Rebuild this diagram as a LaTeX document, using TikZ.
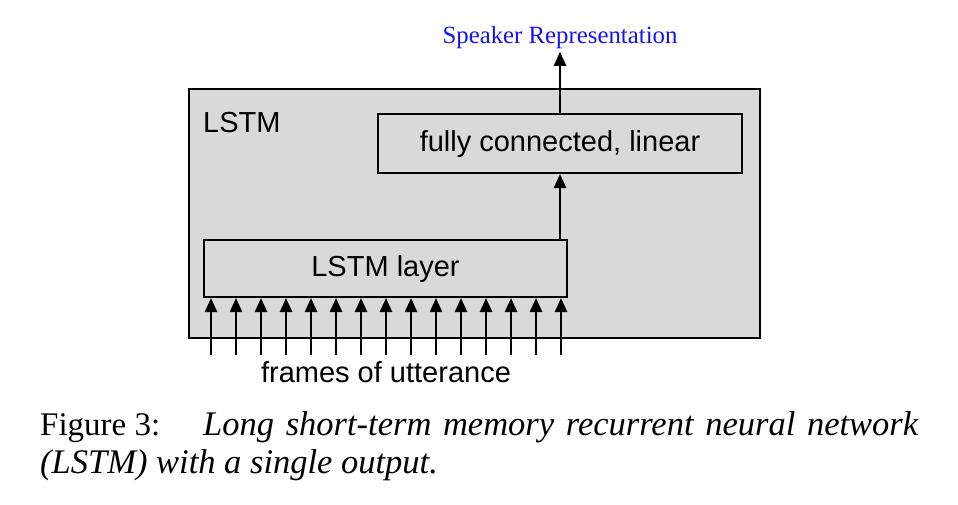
\documentclass[tikz,border=0pt]{standalone}
\usepackage{fontspec}
\setmainfont{Liberation Serif}
\setsansfont{Liberation Sans}
\usetikzlibrary{arrows.meta}
\definecolor{boxgray}{RGB}{217,217,217}
\definecolor{labelblue}{RGB}{20,20,235}
\tikzset{
  blk/.style={draw=black, line width=2pt, fill=boxgray, inner sep=0pt},
  arr/.style={line width=2.5pt, -{Triangle[length=14pt,width=12pt]}},
  sans/.style={font=\sffamily\fontsize{29}{33}\selectfont},
  captxt/.style={font=\fontsize{33}{38}\selectfont, inner sep=0pt, anchor=base west},
  capit/.style={font=\fontsize{34.5}{40}\selectfont\itshape, inner sep=0pt, anchor=base west},
}
\begin{document}
\begin{tikzpicture}[x=1pt,y=-1pt]
\useasboundingbox (0,0) rectangle (958,504);
\node[blk, minimum width=571pt, minimum height=249pt] (outer) at (474.5,213.5) {};
\node[sans, anchor=base west, inner sep=0pt] (lstmlbl) at (203,132) {LSTM};
\node[blk, sans, minimum width=364pt, minimum height=59pt] (fc) at (560,143.5) {fully connected, linear};
\node[blk, sans, minimum width=363pt, minimum height=57pt] (layer) at (385.5,268.5) {LSTM layer};
\foreach \i in {0,...,14}{
  \coordinate (in\i) at ({211+25*\i},355);
  \draw[arr] (in\i) -- (in\i |- layer.south);
}
\node[sans, anchor=base, inner sep=0pt] (frames) at (386,382) {frames of utterance};
\draw[arr] (layer.north -| fc.north) -- (fc.south);
\node[font=\fontsize{24.8}{28}\selectfont, text=labelblue, anchor=base] (spk) at (560,43) {Speaker Representation};
\draw[arr] (fc.north) -- (spk.south);
\node[captxt] (cap1a) at (40,435) {Figure 3:};
\node[capit] (cap1b) at (203,435) {\makebox[715pt][s]{Long short-term memory recurrent neural network}};
\node[capit] (cap2) at (40,473) {(LSTM) with a single output.};
\end{tikzpicture}
\end{document}
